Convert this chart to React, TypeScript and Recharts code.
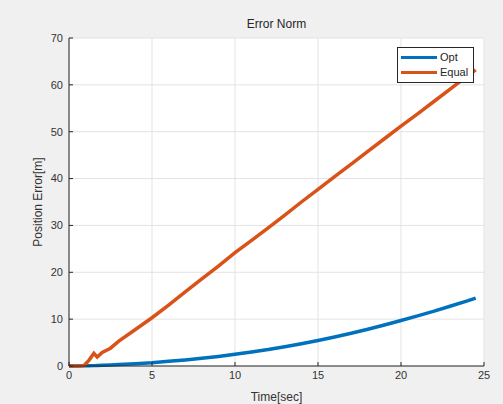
import React from "react";
import { LineChart, Line, XAxis, YAxis, CartesianGrid } from "recharts";

const times = [0, 0.5, 0.9, 1.2, 1.5, 1.7, 2, 2.5, 3, 4, 5, 6, 7, 8, 9, 10, 11, 12, 13, 14, 15, 16, 17, 18, 19, 20, 21, 22, 23, 24, 24.5];
const optErr = [0, 0.02, 0.04, 0.06, 0.08, 0.1, 0.15, 0.22, 0.3, 0.5, 0.7, 1.0, 1.3, 1.65, 2.05, 2.5, 3.0, 3.5, 4.1, 4.75, 5.45, 6.2, 7.0, 7.85, 8.75, 9.7, 10.7, 11.7, 12.8, 13.9, 14.5];
const equalErr = [0, 0, 0.1, 1.2, 2.7, 1.9, 2.9, 3.8, 5.3, 7.8, 10.3, 13.0, 15.8, 18.6, 21.3, 24.2, 26.8, 29.5, 32.2, 35.0, 37.7, 40.4, 43.1, 45.8, 48.5, 51.2, 53.8, 56.5, 59.2, 61.9, 63.2];
const xTicks = [0, 5, 10, 15, 20, 25];
const yTicks = [0, 10, 20, 30, 40, 50, 60, 70];
const seriesNames = [
  { key: "opt", name: "Opt", color: "#0072BD" },
  { key: "equal", name: "Equal", color: "#D95319" },
];

const data = times.map((t, i) => ({ t, opt: optErr[i], equal: equalErr[i] }));

const font = "'Liberation Sans', Arial, sans-serif";
const axisColor = "#262626";

const LegendBox = () => (
  <div
    style={{
      position: "absolute",
      top: 47,
      left: 397,
      width: 69,
      background: "#fff",
      border: "1px solid #262626",
      padding: "2px 3px",
      fontFamily: font,
      fontSize: 11,
      color: "#262626",
      lineHeight: "15px",
    }}
  >
    {seriesNames.map((e) => (
      <div key={e.name} style={{ display: "flex", alignItems: "center" }}>
        <span style={{ display: "inline-block", width: 36, height: 3, background: e.color, marginRight: 3 }} />
        {e.name}
      </div>
    ))}
  </div>
);

export default function App() {
  return (
    <div style={{ position: "absolute", top: 0, left: 0, width: 503, height: 404, background: "#f0f0f0" }}>
      <div
        style={{
          position: "absolute",
          top: 17,
          left: 69,
          width: 415,
          textAlign: "center",
          fontFamily: font,
          fontSize: 12,
          color: "#262626",
        }}
      >
        Error Norm
      </div>
      <LineChart width={503} height={404} data={data} margin={{ top: 38, right: 19, bottom: 0, left: 0 }}>
        <CartesianGrid stroke="#e3e3e3" fill="#fff" />
        <XAxis
          dataKey="t"
          type="number"
          domain={[0, 25]}
          ticks={xTicks}
          height={38}
          stroke={axisColor}
          tickSize={-4}
          tickMargin={9}
          tick={{ fill: "#333", fontSize: 11, fontFamily: font }}
          label={{ value: "Time[sec]", position: "insideBottom", offset: 3, fill: "#333", fontSize: 12, fontFamily: font }}
        />
        <XAxis xAxisId="top" orientation="top" dataKey="t" type="number" domain={[0, 25]} ticks={xTicks} height={0} stroke={axisColor} tickSize={-4} tick={false} />
        <YAxis
          domain={[0, 70]}
          ticks={yTicks}
          width={69}
          stroke={axisColor}
          tickSize={-4}
          tickMargin={10}
          tick={{ fill: "#333", fontSize: 11, fontFamily: font }}
          label={{ value: "Position Error[m]", angle: -90, position: "center", dx: 3, fill: "#333", fontSize: 12, fontFamily: font }}
        />
        <YAxis yAxisId="right" orientation="right" domain={[0, 70]} ticks={yTicks} width={0} stroke={axisColor} tickSize={-4} tick={false} />
        {seriesNames.map((s) => (
          <Line key={s.key} type="linear" dataKey={s.key} name={s.name} stroke={s.color} strokeWidth={3.5} dot={false} isAnimationActive={false} />
        ))}
      </LineChart>
      <LegendBox />
    </div>
  );
}
